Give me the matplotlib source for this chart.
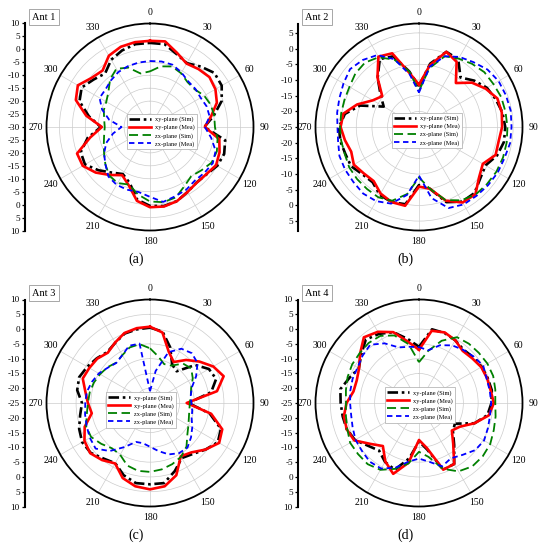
import numpy as np
import matplotlib
matplotlib.use('Agg')
import matplotlib.pyplot as plt
from matplotlib.lines import Line2D

plt.rcParams['font.family'] = ['Liberation Serif', 'DejaVu Serif']

# angles in degrees, clockwise from the top
angles = np.arange(0, 360, 10)

# ---- Ant 1 ---- (dB)
ant1_range = (-30, 10)
ant1_xy_sim = [2.5, 2.5, 0.0, -1.5, 0.5, 2.5, 2.0, -0.5, -5.0, -9.0, -0.5, 0.5,
               0.0, -1.5, -2.0, -1.0, 0.5, 1.0, 0.5, -1.5, -7.0, -9.0, -7.0, -4.0,
               -1.0, -1.5, -5.5, -11.0, -6.0, -1.0, 0.5, -1.5, -3.0, 0.0, 1.5, 2.5]
ant1_xy_mea = [3.3, 3.6, 0.5, -1.7, -0.8, 0.0, -0.8, -2.5, -6.0, -8.8, -2.8, -1.4,
               -0.5, -1.6, -1.9, -1.0, 0.5, 1.2, 1.0, -1.0, -6.0, -8.5, -5.8, -2.6,
               0.0, 0.0, -6.5, -11.4, -5.0, 0.5, 2.2, -0.5, -1.5, 1.8, 3.0, 3.3]
ant1_zx_sim = [-8.5, -6.2, -5.1, -6.0, -7.4, -7.4, -5.8, -5.0, -4.8, -4.9, -3.5, -2.5,
               -2.5, -4.0, -5.2, -3.5, -1.0, -0.5, -1.2, -3.5, -6.3, -5.0, -5.5, -7.5,
               -9.5, -11.0, -12.0, -12.5, -12.0, -11.0, -10.5, -9.0, -6.0, -4.0, -5.6, -9.0]
ant1_zx_mea = [-4.5, -4.3, -4.4, -5.7, -7.0, -7.1, -7.4, -6.7, -6.6, -8.8, -6.0, -3.0,
               -2.0, -2.5, -3.0, -2.0, -1.5, -0.6, -3.0, -4.5, -4.2, -4.2, -5.0, -7.5,
               -9.5, -12.0, -15.5, -19.0, -14.0, -10.3, -7.5, -7.5, -6.5, -5.5, -5.0, -4.7]

# ---- Ant 2 ----
ant2_range = (-25, 8)
ant2_xy_sim = [-12.0, -4.5, 0.5, 0.0, -4.4, -2.0, 0.0, 1.0, 2.0, 2.5, 2.5, 1.5,
               -0.5, 0.5, 2.5, 2.5, 0.5, -5.0, -6.5, 0.0, 0.5, 0.0, -2.0, -1.5,
               0.0, 0.0, 0.5, 0.5, -1.0, -5.0, -12.0, -9.0, -4.5, 0.0, -1.0, -7.0]
ant2_xy_mea = [-11.5, -5.0, 0.5, -1.0, -6.7, -3.0, -0.5, 1.6, 1.8, 1.5, 0.8, 1.0,
               -1.5, 0.0, 3.0, 2.8, 0.0, -5.0, -6.0, 0.5, 0.5, -0.5, -2.5, -2.0,
               -1.0, -2.0, -1.0, 0.0, -0.5, -4.0, -8.0, -9.7, -4.4, 0.9, 0.0, -7.5]
ant2_zx_sim = [-13.5, -6.0, -1.0, 0.2, 1.3, 2.2, 2.4, 2.9, 3.0, 3.2, 3.4, 3.5,
               3.5, 3.3, 3.1, 2.0, -0.2, -5.0, -8.9, -3.3, 0.0, 0.9, 0.8, 0.8,
               0.7, 0.2, 0.2, 0.2, 0.2, 0.3, 0.6, 1.5, 1.8, 0.7, -2.2, -7.0]
ant2_zx_mea = [-14.0, -5.5, -1.0, 0.8, 2.0, 3.5, 4.3, 4.5, 4.7, 4.5, 4.5, 4.0,
               4.0, 3.8, 3.6, 3.5, 2.5, -2.0, -9.5, -3.0, 1.0, 2.3, 2.7, 2.3,
               2.2, 2.0, 1.2, 1.0, 1.5, 2.0, 2.8, 3.7, 2.9, 1.5, -2.0, -8.0]

# ---- Ant 3 ----
ant3_range = (-25, 10)
ant3_xy_sim = [0.5, -0.5, -5.0, -10.0, -11.0, -5.0, -2.0, -1.2, -4.0, -12.0, -4.5, 0.5,
               1.5, -0.5, -2.5, -3.5, -0.5, 2.5, 2.5, 2.5, 1.0, -1.5, -0.5, 1.2,
               1.5, 0.5, -1.0, -2.0, 0.0, 0.5, -0.5, -1.5, -2.5, -1.5, 0.0, 0.3]
ant3_xy_mea = [0.8, -0.8, -6.5, -9.0, -6.0, -3.2, -0.3, 1.5, -2.0, -12.6, -4.0, 1.0,
               2.0, -0.5, -3.2, -4.2, 1.0, 3.6, 4.2, 3.6, 2.0, -1.4, 0.2, 1.4,
               0.6, -1.5, -5.0, -4.0, -2.8, -0.8, -1.3, -1.7, -2.8, -1.4, 0.2, 0.7]
ant3_zx_sim = [-6.5, -9.0, -11.0, -10.4, -7.6, -6.8, -8.3, -10.2, -11.0, -11.5, -11.5, -11.0,
               -10.0, -8.5, -5.8, -4.0, -3.0, -2.2, -1.7, -1.7, -2.5, -4.8, -5.0, -3.5,
               -2.0, -2.0, -3.3, -4.0, -4.3, -4.8, -5.5, -6.2, -7.2, -6.3, -5.0, -4.8]
ant3_zx_mea = [-21.0, -14.0, -6.7, -3.8, -3.0, -4.0, -7.0, -10.0, -11.0, -11.0, -10.5, -10.0,
               -8.5, -6.9, -5.3, -5.4, -6.5, -8.5, -10.2, -11.2, -11.0, -7.8, -3.8, -1.0,
               -1.5, -2.2, -2.7, -3.1, -3.3, -4.1, -5.0, -6.4, -7.3, -6.3, -4.4, -4.6]

# ---- Ant 4 ----
ant4_range = (-25, 10)
ant4_xy_sim = [-6.0, 0.3, 0.2, -0.5, -1.5, -1.0, -0.5, -0.3, 0.0, -0.5, -1.5, -5.0,
               -11.0, -10.0, -6.5, -1.2, -1.0, -9.0, -12.0, -6.0, -1.0, -2.0, -4.0, -2.5,
               0.0, 1.0, 1.2, 1.5, 2.0, 0.0, -1.5, 0.5, 3.0, 2.0, 0.5, -3.0]
ant4_xy_mea = [-7.0, -0.2, 0.4, -0.5, -2.0, -1.5, -0.7, -0.5, -0.4, 0.3, -1.0, -5.0,
               -9.0, -10.5, -7.0, -1.2, -1.0, -9.5, -12.5, -4.5, 0.5, -2.2, -6.0, -3.5,
               0.3, 1.0, 0.8, -0.5, -2.5, -2.6, -1.6, 1.0, 4.0, 2.8, 0.5, -4.0]
ant4_zx_sim = [-11.2, -7.1, -2.6, 0.7, 1.2, 1.4, 1.7, 1.7, 1.2, 0.8, 1.3, 1.9,
               2.8, 3.1, 3.0, 1.7, -1.3, -6.5, -8.5, -4.2, -1.3, 1.1, 2.0, 1.9,
               1.9, 0.8, 0.1, -0.3, 0.1, 0.7, 1.1, 1.2, 1.5, 1.2, -0.7, -4.8]
ant4_zx_mea = [-6.1, -6.9, -4.2, -2.5, -1.6, -0.7, 0.1, -0.7, -0.7, -0.6, -0.6, -0.2,
               0.4, -0.2, -2.1, -3.4, -2.2, -4.8, -6.2, -4.9, -1.7, 0.6, 0.9, 0.2,
               -0.2, -1.1, -1.7, -1.7, -1.4, -1.1, -1.0, -0.1, 0.7, -1.7, -5.0, -5.7]

series_names = ['xy-plane (Sim)', 'xy-plane (Mea)', 'zx-plane (Sim)', 'zx-plane (Mea)']
theta_labels = ['0', '30', '60', '90', '120', '150', '180', '210', '240', '270', '300', '330']
ant_names = ['Ant 1', 'Ant 2', 'Ant 3', 'Ant 4']
panel_tags = ['(a)', '(b)', '(c)', '(d)']

# line styles for the four curves
styles = [dict(color='black', lw=1.9, ls=(0, (4, 1.4, 1, 1.4))),
          dict(color='#ff0000', lw=1.9, ls='-'),
          dict(color='#008000', lw=1.3, ls=(0, (5, 2.5))),
          dict(color='#0000ff', lw=1.3, ls=(0, (3, 2)))]

W, H = 546, 550
R = 103.5  # polar radius in px

panels = [
    dict(rng=ant1_range, data=[ant1_xy_sim, ant1_xy_mea, ant1_zx_sim, ant1_zx_mea],
         center=(150, 127), axis_x=25, leg=(0.558, 0.478)),
    dict(rng=ant2_range, data=[ant2_xy_sim, ant2_xy_mea, ant2_zx_sim, ant2_zx_mea],
         center=(419, 127), axis_x=298, leg=(0.539, 0.483)),
    dict(rng=ant3_range, data=[ant3_xy_sim, ant3_xy_mea, ant3_zx_sim, ant3_zx_mea],
         center=(150, 403), axis_x=25, leg=(0.456, 0.466)),
    dict(rng=ant4_range, data=[ant4_xy_sim, ant4_xy_mea, ant4_zx_sim, ant4_zx_mea],
         center=(419, 403), axis_x=298, leg=(0.505, 0.49)),
]


def close(a):
    return np.append(a, a[0])


fig = plt.figure(figsize=(W / 100, H / 100), dpi=100)

for i, p in enumerate(panels):
    cx, cy = p['center']
    rmin, rmax = p['rng']
    ax = fig.add_axes([(cx - R) / W, 1 - (cy + R) / H, 2 * R / W, 2 * R / H], projection='polar')
    ax.set_theta_zero_location('N')
    ax.set_theta_direction(-1)

    th = np.deg2rad(close(angles))
    for vals, st in zip(p['data'], styles):
        ax.plot(th, close(np.array(vals)), **st)

    ax.set_ylim(rmin, rmax)
    ax.set_yticks(np.arange(rmin, rmax + 0.1, 5))
    ax.set_yticklabels([])
    ax.set_xticks(np.deg2rad(np.arange(0, 360, 30)))
    ax.set_xticklabels(theta_labels, fontsize=7)
    ax.tick_params(axis='x', direction='in', length=4, width=0.9, pad=1)
    ax.grid(color='#cccccc', lw=0.5, ls='-')
    ax.spines['polar'].set_linewidth(1.3)

    hnd = [Line2D([], [], **st) for st in styles]
    leg = ax.legend(hnd, series_names, loc='center', bbox_to_anchor=p['leg'], fontsize=4.6,
                    fancybox=False, edgecolor='#aaaaaa', framealpha=1, handlelength=3.4,
                    labelspacing=0.35, borderpad=0.4, handletextpad=0.6)
    leg.get_frame().set_linewidth(0.5)

    # the dB scale is drawn as a separate vertical axis on the left
    span = rmax - rmin
    lax = fig.add_axes([p['axis_x'] / W, 1 - (cy + R) / H, 0.0001, 2 * R / H])
    lax.set_ylim(-span, span)
    n = int((span // 5) * 5)
    ticks = np.arange(-n, n + 1, 5)
    lax.set_yticks(ticks)
    lax.set_yticklabels([str(int(rmin + abs(t))) for t in ticks], fontsize=6.6)
    lax.set_xticks([])
    for s in ['top', 'right', 'bottom']:
        lax.spines[s].set_visible(False)
    lax.spines['left'].set_linewidth(1.5)
    lax.tick_params(axis='y', direction='out', length=2.5, width=0.9, pad=1.2)

    fig.text((p['axis_x'] + 19) / W, 1 - (cy - 110) / H, ant_names[i], ha='center', va='center',
             fontsize=7.5, bbox=dict(boxstyle='square,pad=0.3', fc='white', ec='#999999', lw=0.6))
    fig.text((cx - 14) / W, 1 - (cy + 132) / H, panel_tags[i], ha='center', va='center', fontsize=10)

fig.savefig('out.png', dpi=100)
